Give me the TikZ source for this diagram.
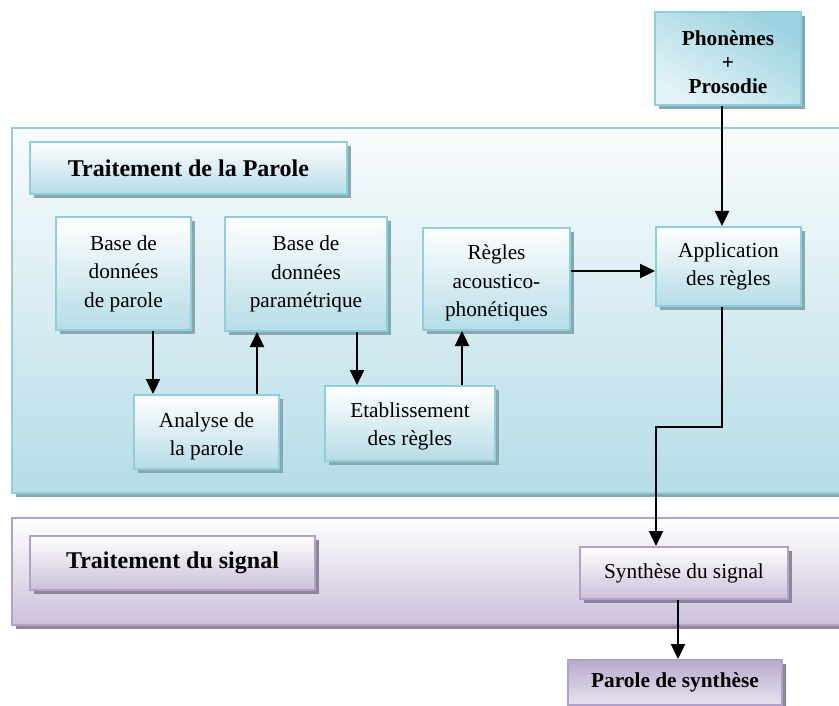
\documentclass[tikz,border=0pt]{standalone}
\usepackage{fontspec}
\setmainfont{Liberation Serif}
\usetikzlibrary{shadows,arrows.meta}

\definecolor{tealline}{HTML}{92CDDC}
\definecolor{tealfill}{HTML}{B6DCE7}
\definecolor{tealtop}{HTML}{F9FCFD}
\definecolor{tealdark}{HTML}{9AD2DF}
\definecolor{teallight}{HTML}{E4F3F7}
\definecolor{tealshadow}{HTML}{85A8B1}
\definecolor{lilacline}{HTML}{B2A1C7}
\definecolor{lilacfill}{HTML}{CCC0DA}
\definecolor{lilacdark}{HTML}{B9A9CD}
\definecolor{lilaclight}{HTML}{E9E4F0}
\definecolor{lilacshadow}{HTML}{8F8599}

\begin{document}
\begin{tikzpicture}[x=1pt,y=-1pt,
  basebox/.style={line width=2pt, inner sep=0pt, align=center},
  tealbox/.style={basebox, draw=tealline, top color=white, bottom color=tealfill,
    general shadow={fill=tealshadow, shadow xshift=4pt, shadow yshift=-4pt}},
  lilacbox/.style={basebox, draw=lilacline, top color=white, bottom color=lilacfill,
    general shadow={fill=lilacshadow, shadow xshift=4pt, shadow yshift=-4pt}},
  plain/.style={font=\fontsize{21.3}{28.5}\selectfont},
  heading/.style={font=\fontsize{24}{28}\selectfont\bfseries},
  boxtext/.style={plain, align=center, inner sep=0pt},
  arr/.style={line width=2.4pt, -{Triangle[length=15pt,width=14pt]}}
]
\useasboundingbox (0,0) rectangle (839,706);
\clip (0,0) rectangle (839,706);

% panels
\node[tealbox, top color=tealtop, minimum width=848pt, minimum height=365pt] (ppanel) at (436,310.5) {};
\node[lilacbox, minimum width=848pt, minimum height=107pt] (spanel) at (436,571.5) {};

% input box
\node[tealbox, top color=tealdark, bottom color=teallight, shading angle=-30,
      minimum width=146pt, minimum height=93pt,
      label={[name=photext, boxtext, font=\fontsize{21.3}{24}\selectfont\bfseries, yshift=-4pt]center:Phonèmes\\+\\Prosodie}]
      (pho) at (728,58.5) {};

% speech processing
\node[tealbox, heading, minimum width=317pt, minimum height=52pt] (ptitle) at (188.5,168) {Traitement de la Parole};
\node[tealbox, plain, minimum width=135pt, minimum height=113pt] (bdp) at (123.5,273.5) {Base de\\données\\de parole};
\node[tealbox, plain, minimum width=162pt, minimum height=114pt] (bdm) at (306,274) {Base de\\données\\paramétrique};
\node[tealbox, minimum width=145pt, minimum height=74pt,
      label={[name=anatext, boxtext, yshift=-4.5pt]center:Analyse de\\la parole}] (ana) at (206.5,432) {};
\node[tealbox, minimum width=170pt, minimum height=75pt,
      label={[name=etatext, boxtext, yshift=-3pt]center:Etablissement\\des règles}] (eta) at (410,423.5) {};
\node[tealbox, minimum width=147pt, minimum height=102pt,
      label={[name=regtext, boxtext, yshift=-4pt]center:Règles\\acoustico-\\phonétiques}] (reg) at (496.5,279) {};
\node[tealbox, plain, minimum width=145pt, minimum height=79pt] (app) at (728.5,266.5) {Application\\des règles};

% signal processing
\node[lilacbox, heading, minimum width=285pt, minimum height=54pt] (stitle) at (172.5,563) {Traitement du signal};
\node[lilacbox, plain, minimum width=208pt, minimum height=52pt] (syn) at (684,573) {Synthèse du signal};
\node[lilacbox, top color=lilacdark, bottom color=lilaclight, font=\fontsize{21.3}{24}\selectfont\bfseries,
      minimum width=214pt, minimum height=45pt] (par) at (675,682.5) {Parole de synthèse};

% connector guides
\coordinate (c1) at (153,0);
\coordinate (c2) at (257,0);
\coordinate (c3) at (357,0);
\coordinate (c4) at (462,0);
\coordinate (c5) at (722,0);
\coordinate (c6) at (656,0);
\coordinate (c7) at (678,0);
\coordinate (r1) at (0,271);
\coordinate (r2) at (0,427);

% connectors
\draw[arr] (bdp.south -| c1) -- (ana.north -| c1);
\draw[arr] (ana.north -| c2) -- (bdm.south -| c2);
\draw[arr] (bdm.south -| c3) -- (eta.north -| c3);
\draw[arr] (eta.north -| c4) -- (reg.south -| c4);
\draw[arr] (reg.east |- r1) -- (app.west |- r1);
\draw[arr] (pho.south -| c5) -- (app.north -| c5);
\draw[arr] (app.south -| c5) -- (c5 |- r2) -- (c6 |- r2) -- (syn.north -| c6);
\draw[arr] (syn.south -| c7) -- (par.north -| c7);
\end{tikzpicture}
\end{document}
